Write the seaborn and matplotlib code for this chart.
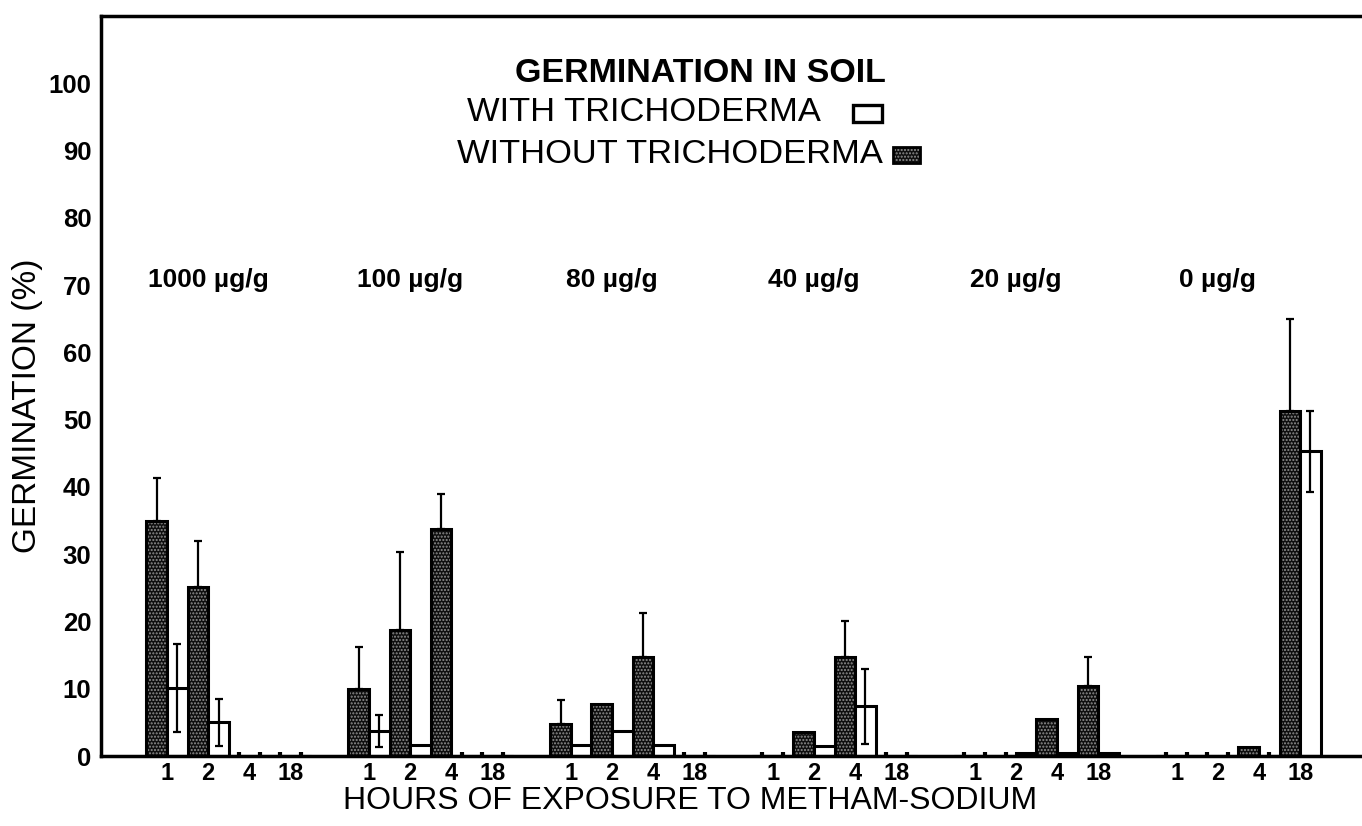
import numpy as np
import pandas as pd
import matplotlib
matplotlib.use("Agg")
import matplotlib.pyplot as plt
import matplotlib.patches as mpatches
import matplotlib.colors as mcolors
import seaborn as sns

# ---------------- data ----------------
hours = ["1", "2", "4", "18"]
doses = ["1000 µg/g", "100 µg/g", "80 µg/g", "40 µg/g", "20 µg/g", "0 µg/g"]

# Germination (%) WITHOUT Trichoderma (dark bars), per dose, per hour
without_mean = [
    [35.0, 25.1, 0.0, 0.0],
    [10.0, 18.8, 33.8, 0.0],
    [4.7, 7.8, 14.7, 0.0],
    [0.0, 3.6, 14.7, 0.0],
    [0.0, 0.0, 5.5, 10.4],
    [0.0, 0.0, 1.4, 51.3],
]
# upper error (one-sided) for dark bars
without_err = [
    [6.4, 6.9, 0.0, 0.0],
    [6.2, 11.5, 5.1, 0.0],
    [3.6, 0.0, 6.5, 0.0],
    [0.0, 0.0, 5.3, 0.0],
    [0.0, 0.0, 0.0, 4.3],
    [0.0, 0.0, 0.0, 13.7],
]
# Germination (%) WITH Trichoderma (white bars)
with_mean = [
    [10.1, 5.0, 0.0, 0.0],
    [3.7, 1.6, 0.0, 0.0],
    [1.7, 3.7, 1.7, 0.0],
    [0.0, 1.5, 7.4, 0.0],
    [0.0, 0.5, 0.5, 0.5],
    [0.0, 0.0, 0.0, 45.3],
]
# symmetric error for white bars
with_err = [
    [6.5, 3.5, 0.0, 0.0],
    [2.4, 0.0, 0.0, 0.0],
    [0.0, 0.0, 0.0, 0.0],
    [0.0, 0.0, 5.6, 0.0],
    [0.0, 0.0, 0.0, 0.0],
    [0.0, 0.0, 0.0, 6.0],
]

TITLE = "GERMINATION IN SOIL"
WITH = "WITH TRICHODERMA"
WITHOUT = "WITHOUT TRICHODERMA"

# ---------------- style ----------------
sns.set_theme(style="white", rc={
    "axes.edgecolor": "black", "text.color": "black", "axes.labelcolor": "black",
    "xtick.color": "black", "ytick.color": "black",
})
plt.rcParams["font.family"] = ["Liberation Sans", "DejaVu Sans"]
plt.rcParams["hatch.linewidth"] = 1.0

GROUP_STEP = 4.9
rows = []
for g, dose in enumerate(doses):
    for h, hr in enumerate(hours):
        pos = g * GROUP_STEP + h
        rows.append(dict(pos=pos, dose=dose, hour=hr, treatment=WITHOUT,
                         value=without_mean[g][h], lo=0.0, hi=without_err[g][h]))
        rows.append(dict(pos=pos, dose=dose, hour=hr, treatment=WITH,
                         value=with_mean[g][h], lo=with_err[g][h], hi=with_err[g][h]))
df = pd.DataFrame(rows)

DARK = "#0e0e0e"
HATCH_COL = "#909090"
HATCH = "....."


def set_hatch_color(p, c):
    if hasattr(p, "set_hatchcolor"):
        p.set_hatchcolor(c)
    else:
        p._hatch_color = mcolors.to_rgba(c)
    p.stale = True


fig = plt.figure(figsize=(13.62, 8.26), dpi=100)
ax = fig.add_axes([0.0742, 0.0847, 0.9258, 0.8959])

sns.barplot(data=df, x="pos", y="value", hue="treatment",
            hue_order=[WITHOUT, WITH], palette={WITHOUT: DARK, WITH: "white"},
            native_scale=True, width=1.0, dodge=True, gap=0, errorbar=None,
            saturation=1, edgecolor="black", linewidth=2.2, legend=False, ax=ax)

for p in ax.patches:
    fc = p.get_facecolor()
    if sum(fc[:3]) < 1.0:
        p.set_hatch(HATCH)
        set_hatch_color(p, HATCH_COL)

# error bars and zero stubs
offsets = {WITHOUT: -0.25, WITH: 0.25}
for trt, off in offsets.items():
    sub = df[(df.treatment == trt) & (df.hi > 0)]
    ax.errorbar(sub.pos + off, sub.value, yerr=[sub.lo, sub.hi], fmt="none",
                ecolor="black", elinewidth=1.6, capsize=3.2, capthick=1.6, zorder=4)
    z = df[(df.treatment == trt) & (df.value == 0)]
    ax.vlines(z.pos + off, 0, 0.6, colors="black", lw=3, zorder=4)

# dose labels
for g, dose in enumerate(doses):
    ax.text(g * GROUP_STEP + 1.0, 70.8, dose, ha="center", va="center",
            fontsize=19, fontweight="bold")

# axes
ax.set_xlim(-1.6, 29.0)
ax.set_ylim(0, 110)
xt = sorted(df.pos.unique())
ax.set_xticks(xt)
ax.set_xticklabels(hours * len(doses), fontsize=17, fontweight="bold")
ax.tick_params(axis="x", length=0, pad=4)
ax.set_yticks(np.arange(0, 101, 10))
ax.set_yticklabels([str(v) for v in range(0, 101, 10)], fontsize=18.5, fontweight="bold")
ax.tick_params(axis="y", direction="in", length=8, width=2.2, pad=7)

for s in ["left", "bottom", "top"]:
    ax.spines[s].set_linewidth(2.5)
    ax.spines[s].set_color("black")
ax.spines["right"].set_visible(False)

ax.set_xlabel("HOURS OF EXPOSURE TO METHAM-SODIUM", fontsize=23)
ax.xaxis.set_label_coords(0.467, -0.040)
ax.set_ylabel("GERMINATION (%)", fontsize=24)
ax.yaxis.label.set_va("center")
ax.yaxis.set_label_coords(-0.0587, 0.474)

# key (title, two labelled swatches), placed in axes fraction
ax.text(0.475, 0.923, TITLE, transform=ax.transAxes, ha="center", va="center",
        fontsize=24.5, fontweight="bold")
ax.text(0.2902, 0.8703, WITH, transform=ax.transAxes, ha="left", va="center",
        fontsize=24.8)
ax.text(0.2823, 0.8122, WITHOUT, transform=ax.transAxes, ha="left", va="center",
        fontsize=24.8)
sw_with = mpatches.Rectangle((0.5964, 0.8568), 0.0230, 0.0230, transform=ax.transAxes,
                             facecolor="white", edgecolor="black", linewidth=2.4,
                             clip_on=False)
sw_without = mpatches.Rectangle((0.6281, 0.8014), 0.0214, 0.0216, transform=ax.transAxes,
                                facecolor=DARK, edgecolor="black", linewidth=2.0,
                                hatch=HATCH, clip_on=False)
set_hatch_color(sw_without, HATCH_COL)
ax.add_patch(sw_with)
ax.add_patch(sw_without)

fig.savefig("out.png", dpi=100)
